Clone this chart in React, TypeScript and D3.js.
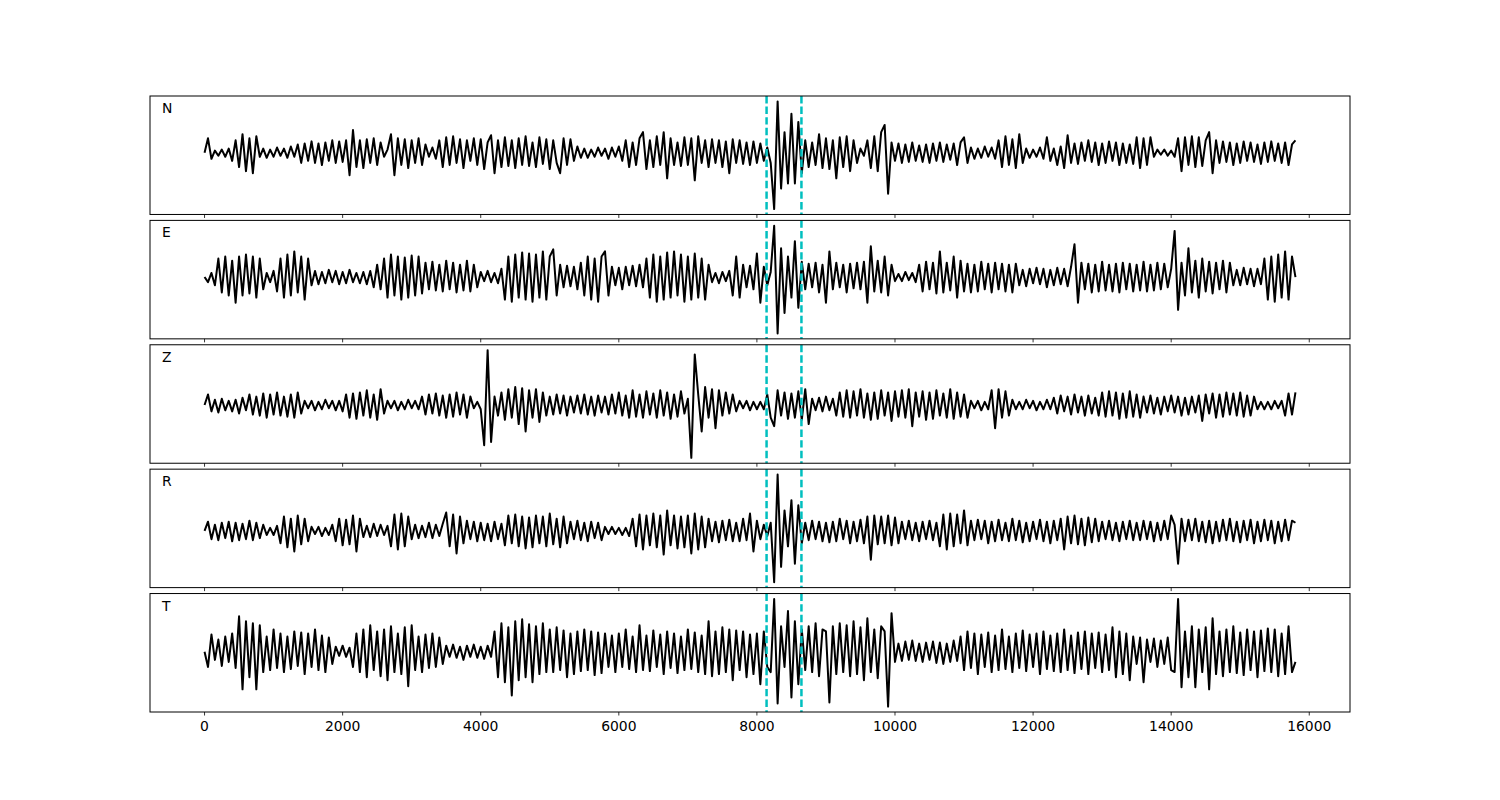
import React from "react";
import * as d3 from "d3";

// sample spacing along the x axis
const STEP = 50;

const channels = ["N", "E", "Z", "R", "T"];

const traceN = [
  0, 14, -6, 2, -3, 3, -4, 4, -8, 12,
  -14, 18, -18, 14, -20, 16, -4, 4, -5, 3,
  -4, 5, -3, 4, -5, 6, -4, 8, -10, 9,
  -8, 11, -10, 9, -12, 10, -8, 12, -10, 11,
  -9, 12, -22, 22, -14, 12, -15, 13, -10, 14,
  -12, 10, -4, 3, 18, -22, 14, -12, 13, -15,
  12, -10, 14, -12, 8, -4, 5, -6, 12, -14,
  15, -12, 16, -10, 13, -15, 12, -8, 14, -12,
  13, -16, 10, 17, -20, 12, -14, 15, -13, 12,
  -15, 14, -12, 16, -13, 10, -14, 15, -11, 13,
  -16, 12, -10, -20, 14, -12, 13, -8, 6, -5,
  4, -5, 3, -4, 5, -3, 4, -6, 5, -4,
  6, -8, 12, -14, 10, -12, 14, 20, -16, 12,
  -14, 16, -12, 20, -25, 14, -12, 10, -13, 15,
  -12, 14, -27, 16, -10, 12, -14, 13, -10, 12,
  -14, 11, -20, 13, -10, 12, -11, 10, -12, 11,
  -10, 9, -8, 5, -10, -55, 50, -35, 20, -30,
  38, -30, 30, -20, 12, -14, 10, -12, 18, -15,
  14, -16, 12, -25, 15, -14, 16, -18, 12, -10,
  4, -3, 12, -15, 16, -18, 20, 27, -40, 10,
  -8, 9, -10, 8, -9, 10, -8, 7, -9, 8,
  -10, 9, -8, 10, -9, 8, -7, 9, -12, 10,
  15, -10, 5, -6, 4, -5, 6, -4, 5, -6,
  12, -14, 16, -12, 13, -15, 18, -10, 4, -5,
  3, -4, 5, -6, 15, -8, 4, -12, 6, -15,
  17, -10, 9, -11, 10, -8, 12, -9, 10, -12,
  9, -10, 11, -8, 10, -12, 9, -10, 8, -11,
  15, -15, 14, -12, 15, -4, 3, -2, 3, -3,
  2, -4, 14, -18, 15, -12, 16, -14, 15, -13,
  12, 20, -20, 12, -10, 11, -9, 10, -12, 9,
  -10, 11, -8, 10, -9, 8, -11, 10, -9, 11,
  -8, 9, -10, 10, -12, 8, 12,
];

const traceE = [
  0, -5, 4, -8, 18, -15, 20, -18, 16, -25,
  20, -18, 22, -16, 20, -20, 18, -12, 4, -5,
  6, -14, 18, -20, 22, -18, 25, -15, 20, -22,
  18, -8, 6, -7, 5, -6, 7, -5, 6, -7,
  5, -6, 7, -5, 4, -6, 5, -7, 6, -10,
  12, -12, 18, -20, 22, -18, 20, -22, 19, -20,
  21, -18, 20, -16, 14, -12, 15, -13, 12, -14,
  16, -12, 14, -15, 12, -13, 16, -14, 12, -10,
  5, -4, 6, -5, 4, -6, 8, -22, 20, -24,
  22, -20, 24, -22, 23, -24, 22, -20, 25, -22,
  20, 27, -18, 12, -10, 11, -9, 10, -12, 14,
  -18, 20, -22, 18, -24, 20, 25, -18, 10, -8,
  9, -12, 10, -8, 11, -9, 12, -10, 18, -20,
  22, -24, 20, -22, 24, -20, 25, -18, 22, -24,
  20, -22, 23, -20, 18, -22, 12, -5, 4, -6,
  5, -4, 6, -18, 20, -20, 12, -10, 11, -12,
  23, -25, 10, -8, 5, 50, -55, 28, -35, 20,
  -20, 35, -30, 15, -12, 13, -10, 14, -15, 12,
  -25, 25, -12, 14, -10, 12, -15, 13, -11, 14,
  -12, 15, -25, 30, -14, 16, -15, 20, -18, 12,
  -4, 3, -4, 5, -3, 4, -5, 12, -14, 15,
  -12, 14, -16, 25, -15, 14, -13, 20, -20, 16,
  -14, 13, -15, 12, -14, 15, -12, 13, -15, 14,
  -12, 13, -14, 12, -15, 13, -8, 7, -9, 8,
  -6, 9, -7, 8, -10, 7, -8, 9, -7, 8,
  -9, 10, 32, -25, 14, -12, 13, -15, 12, -14,
  15, -13, 12, -14, 13, -15, 14, -12, 13, -14,
  12, -13, 15, -14, 12, -13, 14, -12, 13, -10,
  8, 45, -32, 14, -18, 28, -15, 16, -20, 18,
  -14, 15, -16, 14, -12, 16, -15, 14, -8, 7,
  -8, 9, -7, 8, -9, 8, -7, 18, -22, 20,
  -24, 22, -20, 25, -22, 20, 0,
];

const traceZ = [
  0, 10, -6, 5, -7, 6, -5, 4, -6, 5,
  -8, 7, -5, 10, -9, 8, -10, 11, -12, 10,
  -9, 12, -10, 8, -11, 10, -12, 12, -8, 4,
  -3, 4, -5, 3, -4, 5, -3, 4, -5, 4,
  -6, 10, -12, 11, -13, 12, -10, 14, -12, 10,
  -14, 15, -8, 4, -3, 4, -5, 3, -4, 5,
  -3, 4, -4, 8, -9, 10, -8, 11, -10, 9,
  -12, 10, -11, 12, -9, 10, -12, 8, -3, 3,
  -4, -38, 52, -35, 8, -10, 12, -14, 15, -12,
  17, -18, 16, -25, 14, -12, 15, -16, 12, -10,
  8, -9, 10, -8, 9, -10, 8, -7, 9, -8,
  10, -9, 8, -10, 9, -7, 8, -9, 10, -8,
  12, -10, 9, -12, 14, -11, 10, -12, 13, -9,
  11, -12, 14, -10, 12, -13, 10, -11, 13, -8,
  6, -50, 48, 10, -25, 17, -12, 15, -22, 14,
  -10, 12, -8, 10, -6, 4, -3, 4, -5, 3,
  -4, 3, -4, 10, -12, -20, 14, -10, 12, -13,
  11, -12, 13, -14, 15, -18, 6, -5, 7, -6,
  8, -5, 6, -10, 12, -11, 14, -12, 13, -10,
  15, -12, 11, -14, 12, -13, 14, -10, 12, -15,
  13, -11, 14, -12, 15, -20, 12, -11, 13, -14,
  12, -13, 14, -10, 11, -12, 15, -13, 12, -11,
  10, -12, 4, -3, 4, -5, 3, -4, 14, -22,
  15, -12, 13, -10, 5, -4, 3, -4, 5, -3,
  4, -5, 3, -4, 5, -4, 7, -8, 9, -6,
  8, -9, 10, -7, 8, -10, 9, -8, 7, -10,
  12, -11, 13, -10, 12, -13, 11, -12, 13, -11,
  10, -12, 8, -7, 9, -8, 7, -9, 8, -6,
  9, -7, 8, -10, 7, -9, 8, -7, 9, -15,
  10, -8, 11, -12, 10, -11, 12, -9, 11, -10,
  12, -11, 9, -10, 8, -4, 3, -4, 3, -4,
  4, -3, 4, -10, 11, -9, 12,
];

const traceR = [
  0, 9, -8, 6, -9, 8, -7, 9, -10, 8,
  -9, 7, -8, 10, -9, 8, -7, 6, -4, 3,
  -4, 5, -12, 14, -16, 12, -20, 15, -13, 12,
  -10, 4, -3, 4, -5, 3, -4, 6, -10, 12,
  -14, 11, -13, 15, -20, 12, -6, 5, -6, 7,
  -5, 6, -4, 5, -15, 16, -18, 17, -15, 14,
  -8, 6, -7, 5, -6, 8, -7, 6, -5, 7,
  18, -15, 16, -22, 14, -12, 10, -8, 9, -10,
  8, -9, 7, -10, 9, -8, 7, -14, 15, -12,
  16, -15, 14, -17, 13, -16, 15, -12, 14, -15,
  17, -13, 12, -16, 14, -12, 9, -8, 10, -9,
  8, -10, 9, -7, 8, -9, 4, -3, 4, -3,
  3, -4, 3, -5, 12, -15, 16, -18, 15, -14,
  17, -16, 15, -23, 20, -14, 15, -17, 14, -16,
  15, -22, 17, -18, 14, -16, 12, -10, 9, -11,
  10, -9, 11, -10, 8, -10, 12, -9, 17, -20,
  10, -8, 6, -5, 8, -50, 55, -35, 20, -15,
  30, -32, 25, -12, 8, -9, 10, -8, 9, -10,
  8, -11, 9, -10, 12, -8, 10, -12, 9, -10,
  11, -12, 14, -28, 15, -13, 14, -12, 15, -14,
  13, -12, 9, -8, 10, -9, 8, -10, 9, -8,
  10, -9, 8, -15, 16, -18, 17, -15, 16, -12,
  20, -14, 10, -9, 11, -8, 10, -12, 9, -10,
  11, -9, 8, -10, 12, -9, 10, -11, 8, -10,
  9, -8, 11, -10, 9, -12, 10, -9, 12, -18,
  14, -12, 15, -13, 12, -14, 13, -11, 12, -10,
  9, -8, 10, -9, 8, -10, 9, -8, 10, -9,
  8, -9, 10, -8, 9, -10, 8, -9, 10, -8,
  15, 6, -32, 12, -10, 11, -9, 12, -10, 9,
  -11, 10, -12, 9, -10, 11, -9, 12, -10, 9,
  -11, 10, -9, 11, -12, 9, -10, 11, -9, 10,
  -12, 9, -10, 11, -9, 10, 8,
];

const traceT = [
  0, -15, 17, -8, 12, -14, 15, -10, 18, -16,
  35, -37, 30, -25, 28, -37, 26, -20, 15, -18,
  22, -16, 18, -20, 15, -17, 20, -14, 19, -22,
  18, -15, 22, -18, 16, -20, 14, -12, 5, -4,
  6, -5, 4, -15, 18, -20, 22, -25, 26, -18,
  20, -24, 22, -28, 25, -20, 18, -22, 24, -34,
  26, -18, 15, -20, 17, -16, 18, -15, 14, -12,
  6, -5, 7, -6, 5, -8, 6, -5, 7, -6,
  5, -7, 6, -5, 20, -25, 28, -30, 24, -43,
  30, -28, 32, -25, 27, -30, 25, -22, 28, -20,
  22, -20, 24, -18, 21, -25, 18, -22, 20, -19,
  22, -18, 20, -23, 19, -21, 18, -15, 16, -20,
  18, -15, 22, -17, 15, -20, 26, -18, 16, -19,
  21, -15, 17, -22, 20, -16, 18, -21, 15, -18,
  22, -17, 19, -20, 16, -22, 30, -24, 20, -22,
  24, -20, 22, -28, 21, -18, 20, -25, 17, -22,
  18, -32, 20, -15, -20, 52, -51, 25, -15, 40,
  -45, 30, -32, 22, -18, 25, -20, 28, -24, 22,
  20, -50, 25, -22, 28, -20, 26, -24, 30, -22,
  24, -28, 33, -20, 22, -26, 25, 20, -54, 38,
  -10, 8, -9, 10, -8, 11, -9, 8, -10, 9,
  -8, 10, -11, 9, -12, 8, -10, 11, -9, 15,
  -18, 20, -16, 18, -22, 17, -15, 19, -20, 16,
  -18, 22, -17, 15, -20, 18, -16, 21, -19, 17,
  -15, 18, -22, 20, -17, 16, -19, 18, -20, 22,
  -18, 16, -21, 19, -17, 20, -22, 18, -16, 19,
  -20, 17, -18, 24, -25, 20, -22, 18, -28, 15,
  -12, 14, -30, 12, -10, 13, -15, 11, -12, 14,
  -18, -20, 52, -35, 20, -25, 25, -35, 22, -20,
  24, -37, 33, -22, 20, -24, 22, -20, 25, -21,
  19, -23, 22, -18, 20, -25, 21, -19, 23, -20,
  22, -24, 18, -22, 25, -20, -10,
];

const traces = [traceN, traceE, traceZ, traceR, traceT];

// picks (vertical dashed markers)
const picks = [8140, 8645];

const xTicks = [0, 2000, 4000, 6000, 8000, 10000, 12000, 14000, 16000];

const W = 1500;
const H = 800;
const left = 150;
const right = 1350;
const top = 96;
const bottom = 712;
const nP = 5;
const hspace = 0.05;

export default function App() {
  const panelH = (bottom - top) / (nP + (nP - 1) * hspace);
  const gap = panelH * hspace;
  const xMax = (traceN.length - 1) * STEP;
  const pad = xMax * 0.05;
  const x = d3.scaleLinear().domain([-pad, xMax + pad]).range([left, right]);
  const font = "DejaVu Sans, sans-serif";

  return (
    <svg width={W} height={H} style={{ display: "block", position: "absolute", left: 0, top: 0 }}>
      <rect x={0} y={0} width={W} height={H} fill="#fff" />
      {traces.map((tr, k) => {
        const y0 = top + k * (panelH + gap);
        const y1 = y0 + panelH;
        const mn = d3.min(tr) as number;
        const mx = d3.max(tr) as number;
        const span = mx - mn;
        const y = d3.scaleLinear().domain([mn - span * 0.05, mx + span * 0.05]).range([y1, y0]);
        const line = d3
          .line<number>()
          .x((_, i) => x(i * STEP))
          .y((d) => y(d));
        const isLast = k === nP - 1;
        return (
          <g key={k}>
            <path d={line(tr) || ""} fill="none" stroke="#000" strokeWidth={2} strokeLinejoin="round" />
            {picks.map((p, j) => (
              <line
                key={j}
                x1={x(p)}
                x2={x(p)}
                y1={y0}
                y2={y1}
                stroke="#00bfbf"
                strokeWidth={2.5}
                strokeDasharray="7.4 3.2"
              />
            ))}
            <rect x={left} y={y0} width={right - left} height={panelH} fill="none" stroke="#000" strokeWidth={1} />
            {xTicks.map((t) => (
              <g key={t}>
                <line x1={x(t)} x2={x(t)} y1={y1} y2={y1 + 3.5} stroke="#000" strokeWidth={0.8} />
                {isLast && (
                  <text x={x(t)} y={y1 + 19} textAnchor="middle" fontSize={13.9} fontFamily={font} fill="#000">
                    {t}
                  </text>
                )}
              </g>
            ))}
            <text x={left + 12} y={y0 + 17} fontSize={13.9} fontFamily={font} fill="#000">
              {channels[k]}
            </text>
          </g>
        );
      })}
    </svg>
  );
}
